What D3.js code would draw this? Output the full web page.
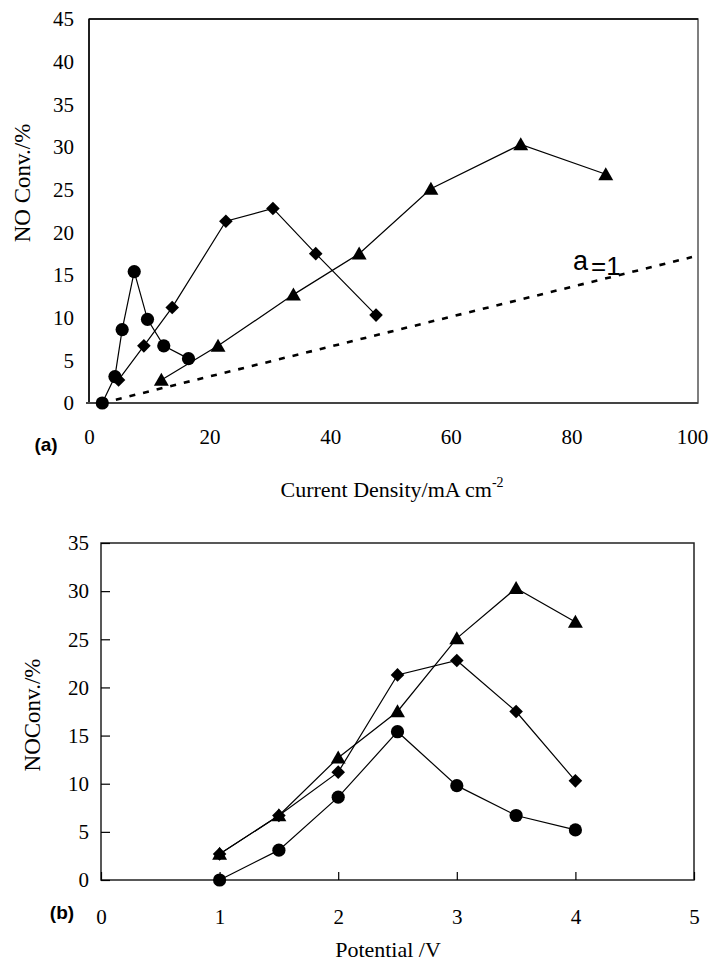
<!DOCTYPE html>
<html>
<head>
<meta charset="utf-8">
<script src="https://cdn.jsdelivr.net/npm/d3@7"></script>
<style>
  body { margin: 0; background: #fff; }
  svg { display: block; }
  .tick text { font-family: "Liberation Serif", "Times New Roman", serif; }
</style>
</head>
<body>
<div id="chart"></div>
<script>
// values (same conversions in both panels)
const potential = [1, 1.5, 2, 2.5, 3, 3.5, 4];
const convCircle = [0, 3.1, 8.6, 15.4, 9.8, 6.7, 5.2];
const convDiamond = [2.7, 6.7, 11.2, 21.3, 22.8, 17.5, 10.3];
const convTriangle = [2.7, 6.7, 12.7, 17.5, 25.1, 30.3, 26.8];
const currentCircle = [2.2, 4.3, 5.5, 7.5, 9.7, 12.4, 16.5];
const currentDiamond = [4.9, 9.1, 13.8, 22.7, 30.5, 37.6, 47.6];
const currentTriangle = [12.0, 21.4, 33.9, 44.8, 56.7, 71.6, 85.7];
// a = 1 reference line (current density, conversion)
const refCurrent = [2.2, 100];
const refConv = [0, 17.1];

const topXTicks = [0, 20, 40, 60, 80, 100];
const topYTicks = [0, 5, 10, 15, 20, 25, 30, 35, 40, 45];
const botXTicks = [0, 1, 2, 3, 4, 5];
const botYTicks = [0, 5, 10, 15, 20, 25, 30, 35];

const width = 709, height = 963;
const serif = "Liberation Serif";
const sans = "Liberation Sans";

const svg = d3.select("#chart").append("svg")
    .attr("width", width)
    .attr("height", height);

const markerPath = {
    circle: r => `M${-r},0a${r},${r} 0 1,0 ${2 * r},0a${r},${r} 0 1,0 ${-2 * r},0Z`,
    diamond: r => `M0,${-r}L${r},0L0,${r}L${-r},0Z`,
    triangle: r => `M0,${-r * 1.1}L${r * 1.15},${r * 0.9}L${-r * 1.15},${r * 0.9}Z`
};

function drawSeries(g, xs, ys, shape, size, x, y) {
    const pts = xs.map((v, i) => [v, ys[i]]);
    g.append("path")
        .datum(pts)
        .attr("fill", "none")
        .attr("stroke", "#000")
        .attr("stroke-width", 1.2)
        .attr("d", d3.line().x(d => x(d[0])).y(d => y(d[1])));
    g.selectAll(null)
        .data(pts)
        .join("path")
        .attr("transform", d => `translate(${x(d[0])},${y(d[1])})`)
        .attr("d", markerPath[shape](size))
        .attr("fill", "#000");
}

function styleTicks(axisG, fontSize) {
    axisG.select(".domain").remove();
    axisG.attr("font-family", serif).attr("font-size", fontSize);
    axisG.selectAll("text")
        .attr("font-family", serif)
        .attr("font-size", fontSize)
        .attr("fill", "#000");
    axisG.selectAll("line").attr("stroke", "#000").attr("stroke-width", 1.2);
}

// ---------- panel (a) ----------
const xA = d3.scaleLinear().domain([0, 100]).range([89, 692]);
const yA = d3.scaleLinear().domain([0, 45]).range([403, 19]);
const gA = svg.append("g");

gA.append("rect")
    .attr("x", 89).attr("y", 19)
    .attr("width", 698 - 89).attr("height", 403 - 19)
    .attr("fill", "none")
    .attr("stroke", "#555")
    .attr("stroke-width", 1.5);
gA.append("line").attr("x1", 89).attr("x2", 89).attr("y1", 19).attr("y2", 403)
    .attr("stroke", "#000").attr("stroke-width", 1.5);
gA.append("line").attr("x1", 89).attr("x2", 698).attr("y1", 19).attr("y2", 19)
    .attr("stroke", "#000").attr("stroke-width", 1.5);
gA.append("line").attr("x1", 86).attr("x2", 698).attr("y1", 403).attr("y2", 403)
    .attr("stroke", "#444").attr("stroke-width", 2);

gA.append("g")
    .attr("transform", "translate(89,0)")
    .call(d3.axisLeft(yA).tickValues(topYTicks).tickFormat(d3.format("d")).tickSize(0).tickPadding(15))
    .call(g => styleTicks(g, 21));
gA.append("g")
    .attr("transform", "translate(0,403)")
    .call(d3.axisBottom(xA).tickValues(topXTicks).tickFormat(d3.format("d")).tickSize(0).tickPadding(26))
    .call(g => styleTicks(g, 21));

// a = 1 dashed line
gA.append("path")
    .datum(refCurrent.map((v, i) => [v, refConv[i]]))
    .attr("fill", "none")
    .attr("stroke", "#000")
    .attr("stroke-width", 2.6)
    .attr("stroke-dasharray", "6,8")
    .attr("d", d3.line().x(d => xA(d[0])).y(d => yA(d[1])));

drawSeries(gA, currentCircle, convCircle, "circle", 6.6, xA, yA);
drawSeries(gA, currentDiamond, convDiamond, "diamond", 6.8, xA, yA);
drawSeries(gA, currentTriangle, convTriangle, "triangle", 6.5, xA, yA);

const aLabel = gA.append("text")
    .attr("x", 573).attr("y", 270)
    .attr("font-family", sans)
    .attr("fill", "#000");
aLabel.append("tspan").attr("font-size", 27).text("a");
aLabel.append("tspan").attr("font-size", 26).attr("dx", 3).attr("dy", 5).text("=1");

gA.append("text")
    .attr("transform", "translate(30,183) rotate(-90)")
    .attr("text-anchor", "middle")
    .attr("font-family", serif)
    .attr("font-size", 23)
    .text("NO Conv./%");

const xTitleA = gA.append("text")
    .attr("x", 392).attr("y", 497)
    .attr("text-anchor", "middle")
    .attr("font-family", serif)
    .attr("font-size", 22);
xTitleA.append("tspan").text("Current Density/mA cm");
xTitleA.append("tspan").attr("font-size", 14).attr("dy", -10).text("-2");

gA.append("text")
    .attr("x", 46).attr("y", 451)
    .attr("text-anchor", "middle")
    .attr("font-family", sans)
    .attr("font-weight", "bold")
    .attr("font-size", 19)
    .text("(a)");

// ---------- panel (b) ----------
const xB = d3.scaleLinear().domain([0, 5]).range([101, 694]);
const yB = d3.scaleLinear().domain([0, 35]).range([880, 543]);
const gB = svg.append("g");

gB.append("rect")
    .attr("x", 101).attr("y", 543)
    .attr("width", 694 - 101).attr("height", 880 - 543)
    .attr("fill", "none")
    .attr("stroke", "#222")
    .attr("stroke-width", 1.5);

gB.append("g")
    .attr("transform", "translate(101,0)")
    .call(d3.axisLeft(yB).tickValues(botYTicks).tickFormat(d3.format("d")).tickSize(-9).tickPadding(12))
    .call(g => styleTicks(g, 21));
gB.append("g")
    .attr("transform", "translate(0,880)")
    .call(d3.axisBottom(xB).tickValues(botXTicks).tickFormat(d3.format("d")).tickSize(-8).tickPadding(29))
    .call(g => styleTicks(g, 21));

drawSeries(gB, potential, convCircle, "circle", 6.6, xB, yB);
drawSeries(gB, potential, convDiamond, "diamond", 6.8, xB, yB);
drawSeries(gB, potential, convTriangle, "triangle", 6.5, xB, yB);

gB.append("text")
    .attr("transform", "translate(40,715) rotate(-90)")
    .attr("text-anchor", "middle")
    .attr("font-family", serif)
    .attr("font-size", 23)
    .text("NOConv./%");

gB.append("text")
    .attr("x", 388).attr("y", 957)
    .attr("text-anchor", "middle")
    .attr("font-family", serif)
    .attr("font-size", 22)
    .text("Potential /V");

gB.append("text")
    .attr("x", 62).attr("y", 919)
    .attr("text-anchor", "middle")
    .attr("font-family", sans)
    .attr("font-weight", "bold")
    .attr("font-size", 19)
    .text("(b)");
</script>
</body>
</html>
